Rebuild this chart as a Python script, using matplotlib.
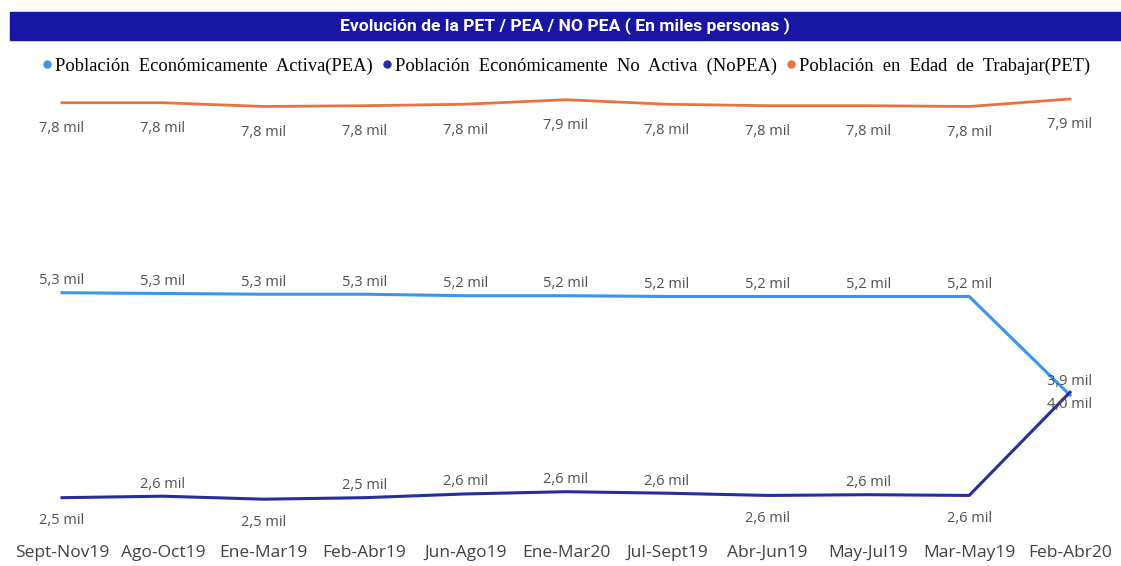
import matplotlib.pyplot as plt
from matplotlib.patches import Rectangle
from matplotlib.lines import Line2D

periodos = ['Sept-Nov19', 'Ago-Oct19', 'Ene-Mar19', 'Feb-Abr19', 'Jun-Ago19', 'Ene-Mar20',
            'Jul-Sept19', 'Abr-Jun19', 'May-Jul19', 'Mar-May19', 'Feb-Abr20']
pea = [5.28, 5.27, 5.26, 5.26, 5.24, 5.24, 5.23, 5.23, 5.23, 5.23, 3.91]
nopea = [2.54, 2.56, 2.52, 2.54, 2.59, 2.62, 2.60, 2.57, 2.58, 2.57, 3.95]
pet = [7.82, 7.82, 7.77, 7.78, 7.80, 7.86, 7.80, 7.78, 7.78, 7.77, 7.87]

# label placement: pixel offsets (dy) per point
nopea_dy = [-23, 12, -23, 12, 12, 12, 12, -23, 12, -23, -12]
pea_dy = [12] * 10 + [14]
pet_dy = [-26] * 11

c_pea = '#3a96ec'
c_nopea = '#2b2ba0'
c_pet = '#ea7240'
lbl_font = ['Open Sans', 'DejaVu Sans']

W, H = 1121, 566
fig = plt.figure(figsize=(W / 100, H / 100), dpi=100)

# title bar
fig.patches.append(Rectangle((10 / W, 1 - 40 / H), 1 - 10 / W, 28 / H,
                             transform=fig.transFigure, color='#1717a3', zorder=0))
fig.text(565 / W, 1 - 26 / H, 'Evolución de la PET / PEA / NO PEA ( En miles personas )',
         color='white', fontsize=12.6, fontweight='bold', ha='center', va='center',
         family=['Roboto', 'DejaVu Sans'])

ax = fig.add_axes([11.6 / W, (H - 530) / H, (1120.4 - 11.6) / W, 445 / H])
x = list(range(len(periodos)))
ax.plot(x, pet, color=c_pet, lw=2)
ax.plot(x, pea, color=c_pea, lw=2.2)
ax.plot(x, nopea, color=c_nopea, lw=2.2)
ax.set_xlim(-0.5, len(periodos) - 0.5)
ax.set_ylim(2.108, 8.057)

def fmt(v):
    return f'{v:.1f}'.replace('.', ',') + ' mil'

for serie, dys in ((pet, pet_dy), (pea, pea_dy), (nopea, nopea_dy)):
    for i, (v, dy) in enumerate(zip(serie, dys)):
        ax.annotate(fmt(v), (i, v), xytext=(0, dy), textcoords='offset pixels',
                    ha='center', va='center', fontsize=10.5, color='#505050',
                    family=lbl_font)

ax.set_xticks(x)
ax.set_xticklabels(periodos, fontsize=12.5, color='#404040', family=lbl_font)
ax.tick_params(axis='x', length=0, pad=11)
ax.set_yticks([])
for s in ax.spines.values():
    s.set_visible(False)

handles = [Line2D([], [], marker='o', ls='', color=c, markersize=5) for c in (c_pea, c_nopea, c_pet)]
names = ['Población  Económicamente  Activa(PEA)',
         'Población  Económicamente  No  Activa  (NoPEA)',
         'Población  en  Edad  de  Trabajar(PET)']
fig.legend(handles, names, loc='center', bbox_to_anchor=(565 / W, 1 - 66 / H), ncol=3,
           frameon=False, handletextpad=0.0, columnspacing=0.4, handlelength=0.8,
           prop={'family': ['Liberation Serif'], 'size': 13.3})

fig.savefig('out.png', dpi=100)
